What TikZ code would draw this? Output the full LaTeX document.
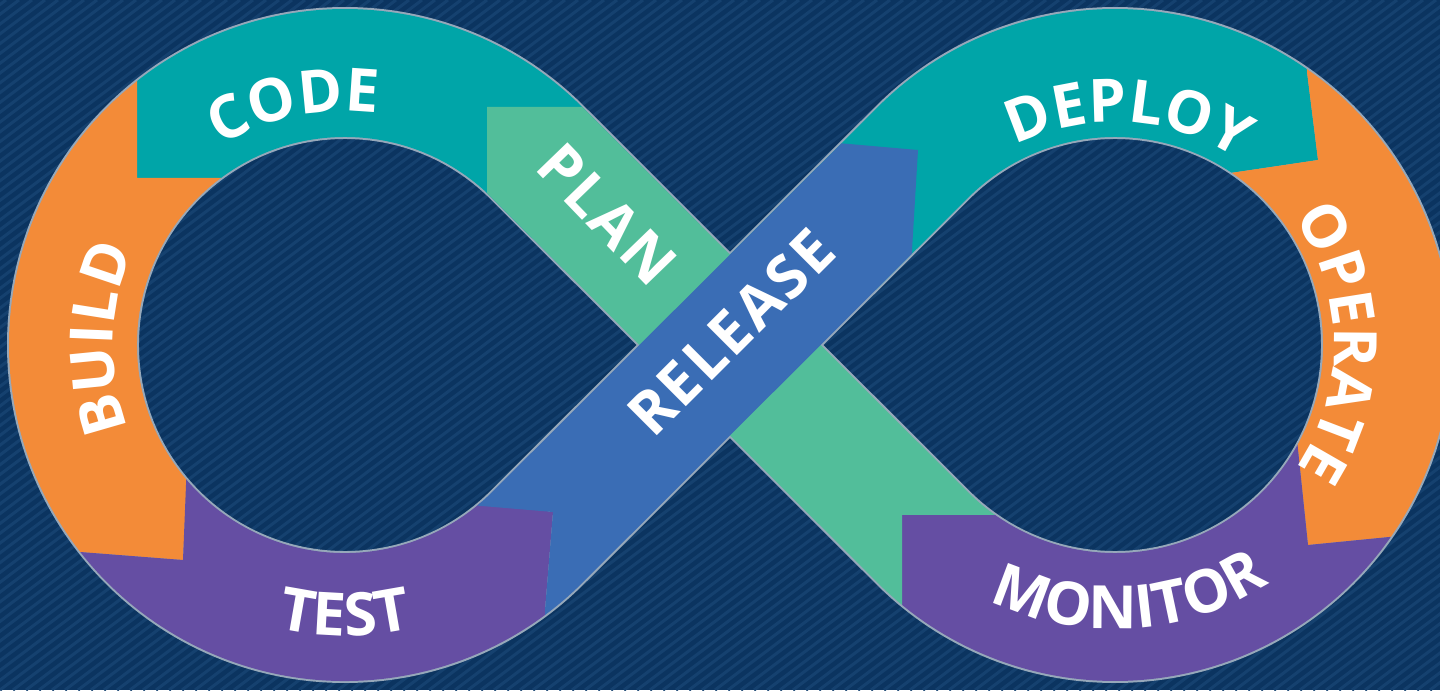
\documentclass[tikz,border=0pt]{standalone}
\usepackage{fontspec}
\newfontfamily\lblfont{Open Sans}[LetterSpace=4]
\usetikzlibrary{decorations.text}

\definecolor{navy}{RGB}{11,52,96}
\definecolor{stripe}{RGB}{21,65,111}
\definecolor{tealc}{RGB}{0,165,168}
\definecolor{orangec}{RGB}{243,139,56}
\definecolor{purplec}{RGB}{101,78,163}
\definecolor{greenc}{RGB}{82,190,154}
\definecolor{bluec}{RGB}{58,109,181}
\definecolor{haloc}{RGB}{150,168,186}
\newcommand{\lbl}{\lblfont\bfseries\fontsize{34}{36}\selectfont}

\begin{document}
\begin{tikzpicture}[
    x=0.02cm, y=0.02cm,
    band/.style={line width=2.56cm},
    halo/.style={line width=2.64cm, draw=haloc},
    tag/.style={text=white, font=\lbl, inner sep=0pt},
    arclabel/.style={decorate, decoration={text along path, text align=center, text color=white, text={|\lbl|#1}}}
]

% Centres and tangent points
\coordinate (lc) at (345,345);
\coordinate (rc) at (1115,345);
\coordinate (x) at (730,345);
\coordinate (lu) at (537.33,537.33);
\coordinate (ld) at (537.33,152.67);
\coordinate (ru) at (922.67,537.33);
\coordinate (rd) at (922.67,152.67);

% Background
\fill[navy] (0,0) rectangle (1440,690);
\begin{scope}
    \clip (0,0) rectangle (1440,690);
    \foreach \i in {-72,...,112}
        \draw[stripe, line width=0.06cm] (\i*13,0) -- ++(916,690);
\end{scope}
\useasboundingbox (0,0) rectangle (1440,690);

% Outline of the loop
\draw[halo] (x) -- (ru) arc[start angle=135, end angle=-135, radius=272] -- (x)
    -- (lu) arc[start angle=45, end angle=315, radius=272] -- cycle;

% Code
\begin{scope}
    \clip (137,512) -- (137,710) -- (700,710) -- (700,420) -- (330,420) -- (330,512) -- cycle;
    \draw[band, tealc] (x) -- (lu) arc[start angle=45, end angle=200, radius=272];
\end{scope}

% Build
\begin{scope}
    \clip (-10,710) -- (137,710) -- (137,512) -- (330,512) -- (330,215) -- (187,215) -- (183,130) -- (-10,145) -- cycle;
    \draw[band, orangec] (lc) ++(95:272) arc[start angle=95, end angle=265, radius=272];
\end{scope}

% Test
\begin{scope}
    \clip (-10,145) -- (183,130) -- (187,230) -- (553,178) -- (545,80) -- (545,-10) -- (-10,-10) -- cycle;
    \draw[band, purplec] (lc) ++(190:272) arc[start angle=190, end angle=315, radius=272] -- (x);
\end{scope}

% Deploy
\begin{scope}
    \clip (700,400) -- (700,710) -- (1306,710) -- (1307,618) -- (1318,530) -- (1000,483) -- (1000,400) -- cycle;
    \draw[band, tealc] (x) -- (ru) arc[start angle=135, end angle=20, radius=272];
\end{scope}

% Operate
\begin{scope}
    \clip (1306,710) -- (1450,710) -- (1450,159) -- (1308,145) -- (1297,250) -- (1150,250) -- (1150,505) -- (1318,530) -- (1307,618) -- cycle;
    \draw[band, orangec] (rc) ++(70:272) arc[start angle=70, end angle=-70, radius=272];
\end{scope}

% Monitor
\begin{scope}
    \clip (902,-10) -- (902,175) -- (1000,175) -- (1000,260) -- (1297,250) -- (1308,145) -- (1450,159) -- (1450,-10) -- cycle;
    \draw[band, purplec] (rc) ++(-20:272) arc[start angle=-20, end angle=-135, radius=272] -- (x);
\end{scope}

% Plan
\begin{scope}
    \clip (487,583) -- (1100,583) -- (1100,175) -- (902,175) -- (902,-10) -- (487,-10) -- cycle;
    \draw[band, greenc] (rc) ++(-110:272) arc[start angle=-110, end angle=-135, radius=272]
        -- (lu) arc[start angle=45, end angle=80, radius=272];
\end{scope}

% Release, on top of plan
\begin{scope}
    \clip (545,-10) -- (545,80) -- (553,178) -- (470,185) -- (470,579) -- (918,540) -- (912,440) -- (912,-10) -- cycle;
    \draw[band, bluec] (lc) ++(300:272) arc[start angle=300, end angle=315, radius=272]
        -- (ru) arc[start angle=135, end angle=110, radius=272];
\end{scope}

% Labels
\path[arclabel=CODE] (lc) ++(150:234) arc[start angle=150, end angle=54, radius=234];
\path[arclabel=BUILD] (lc) ++(225:232) arc[start angle=225, end angle=132, radius=232];
\path[arclabel=TEST] (lc) ++(225:291) arc[start angle=225, end angle=315, radius=291];
\path[arclabel=DEPLOY] (rc) ++(135:223) arc[start angle=135, end angle=38, radius=223];
\path[arclabel=OPERATE] (rc) ++(48:219) arc[start angle=48, end angle=-46.6, radius=219];
\path[arclabel=MONITOR] (rc) ++(225:284) arc[start angle=225, end angle=321.8, radius=284];
\node[tag, rotate=-46] (plan) at (607,476) {PLAN};
\node[tag, rotate=45] (release) at (731,358) {RELEASE};

\end{tikzpicture}
\end{document}
